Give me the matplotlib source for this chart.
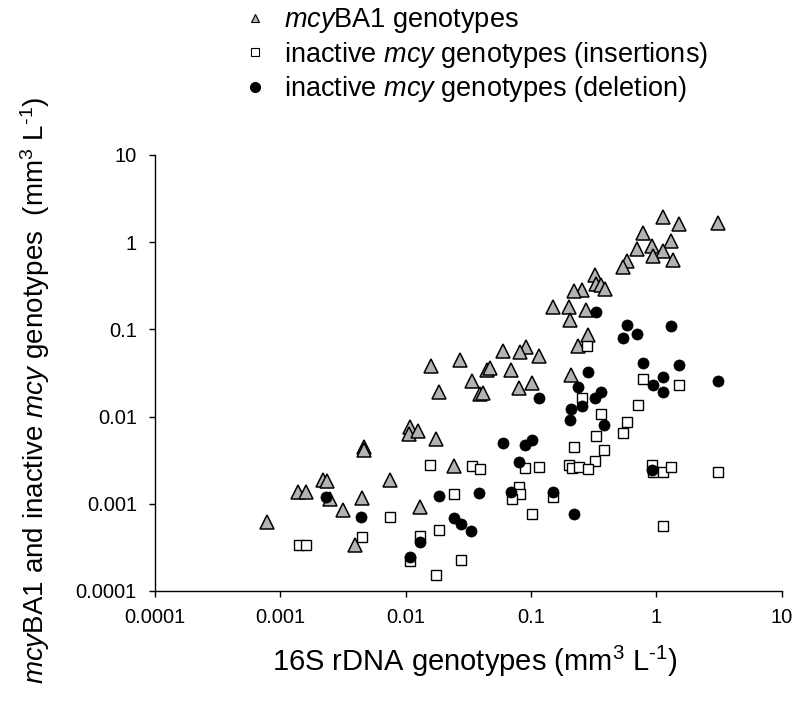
import matplotlib
matplotlib.use('Agg')
import matplotlib.pyplot as plt
from matplotlib.lines import Line2D
from matplotlib.ticker import NullLocator
#
plt.rcParams['font.family'] = ['Liberation Sans', 'DejaVu Sans']
plt.rcParams['mathtext.fontset'] = 'custom'
plt.rcParams['mathtext.rm'] = 'Liberation Sans'
plt.rcParams['mathtext.it'] = 'Liberation Sans:italic'
#
# -> mcyBA1 genotypes (x = 16S rDNA, y = mcyBA1), mm3 L-1
mcyX = [1.13, 1.52, 3.11, 0.783, 1.30, 0.924, 0.705, 1.12, 0.941, 1.36,
        0.583, 0.545, 0.321, 0.327, 0.364, 0.386, 0.255, 0.221, 0.150, 0.199,
        0.276, 0.206, 0.285, 0.235, 0.0597, 0.0915, 0.081, 0.116, 0.0695, 0.2095,
        0.102, 0.0794, 0.0159, 0.0273, 0.0445, 0.0466, 0.0335, 0.0185, 0.0393, 0.041,
        0.0108, 0.0106, 0.0126, 0.0175, 0.00466, 0.00466, 0.0244, 0.0022, 0.00234, 0.00743,
        0.00139, 0.0016, 0.00249, 0.00449, 0.00316, 0.0131, 0.000786, 0.00394]
mcyY = [1.92, 1.61, 1.68, 1.29, 1.04, 0.91, 0.834, 0.797, 0.699, 0.628,
        0.601, 0.513, 0.42, 0.331, 0.323, 0.29, 0.285, 0.272, 0.182, 0.179,
        0.168, 0.129, 0.0869, 0.0646, 0.056, 0.0634, 0.0545, 0.049, 0.0343, 0.030,
        0.0241, 0.0215, 0.0384, 0.045, 0.0345, 0.0361, 0.0254, 0.0191, 0.0183, 0.0187,
        0.00754, 0.00634, 0.00691, 0.0056, 0.00453, 0.00419, 0.00268, 0.00185, 0.00181, 0.00185,
        0.00138, 0.00135, 0.00114, 0.00115, 0.000838, 0.000914, 0.000616, 0.00034]
#
# -> inactive mcy genotypes (insertions)
insX = [0.2795, 0.783, 1.52, 0.255, 0.709, 0.362, 0.583, 0.542, 0.329, 0.221,
        0.383, 0.321, 0.199, 0.2106, 0.2395, 0.284, 0.034, 0.0391, 0.0902, 0.1152,
        0.924, 0.932, 1.123, 1.30, 3.10, 0.0794, 0.081, 0.0699, 0.149, 0.1017,
        1.13, 0.01575, 0.0244, 0.00746, 0.0184, 0.00446, 0.01303, 0.0014, 0.00161, 0.01084,
        0.0275, 0.0174]
insY = [0.0642, 0.0269, 0.0231, 0.0163, 0.0136, 0.0107, 0.00877, 0.00647, 0.00606, 0.00453,
        0.00417, 0.00307, 0.00278, 0.00254, 0.00263, 0.00252, 0.00271, 0.00252, 0.00254, 0.00263,
        0.00275, 0.0023, 0.0023, 0.00263, 0.0023, 0.00155, 0.00128, 0.00114, 0.00119, 0.000758,
        0.000552, 0.0028, 0.00129, 0.000702, 0.000504, 0.000414, 0.000425, 0.000333, 0.000333, 0.000222,
        0.000228, 0.000151]
#
# -> inactive mcy genotypes (deletion)
delX = [0.33, 0.583, 1.30, 0.705, 0.542, 0.783, 1.52, 0.285, 1.12, 3.10,
        0.938, 0.237, 0.362, 1.13, 0.1148, 0.321, 0.255, 0.2095, 0.205, 0.383,
        0.0592, 0.0899, 0.1017, 0.0794, 0.924, 0.0695, 0.149, 0.221, 0.0386, 0.0184,
        0.00231, 0.00443, 0.0244, 0.0274, 0.0333, 0.01303, 0.01084]
delY = [0.1595, 0.111, 0.1088, 0.0886, 0.0799, 0.0412, 0.0389, 0.0328, 0.0286, 0.0255,
        0.023, 0.0219, 0.0193, 0.019, 0.0163, 0.0165, 0.01336, 0.0121, 0.00907, 0.00805,
        0.0050, 0.00469, 0.00541, 0.003, 0.00245, 0.00136, 0.00136, 0.000754, 0.00132, 0.00122,
        0.00121, 0.000702, 0.000692, 0.00059, 0.000486, 0.000365, 0.000245]
#
tickVals   = [0.0001, 0.001, 0.01, 0.1, 1, 10]
tickLabels = ['0.0001', '0.001', '0.01', '0.1', '1', '10']
#
legendLabels = ['$\\it{mcy}$BA1 genotypes',
                'inactive $\\it{mcy}$ genotypes (insertions)',
                'inactive $\\it{mcy}$ genotypes (deletion)']
#
#
#
fig = plt.figure(figsize=(8.0, 7.07), dpi=100)
ax = fig.add_axes([0.1938, 0.1641, 0.7834, 0.6167])
ax.set_xscale('log')
ax.set_yscale('log')
ax.set_xlim(1e-4, 10)
ax.set_ylim(1e-4, 10)
#
ax.plot(mcyX, mcyY, ls='none', marker='^', ms=9.5, mfc='#b3b3b3', mec='black', mew=1.1, clip_on=False)
ax.plot(insX, insY, ls='none', marker='s', ms=7, mfc='white', mec='black', mew=1.0, clip_on=False)
ax.plot(delX, delY, ls='none', marker='o', ms=8, mfc='black', mec='black', mew=0.5, clip_on=False)
#
ax.set_xticks(tickVals)
ax.set_xticklabels(tickLabels)
ax.set_yticks(tickVals)
ax.set_yticklabels(tickLabels)
ax.xaxis.set_minor_locator(NullLocator())
ax.yaxis.set_minor_locator(NullLocator())
ax.tick_params(axis='both', direction='out', length=4, width=1, labelsize=14.5)
ax.tick_params(axis='x', pad=8)
ax.tick_params(axis='y', pad=9)
ax.spines['top'].set_visible(False)
ax.spines['right'].set_visible(False)
ax.spines['left'].set_linewidth(1)
ax.spines['bottom'].set_linewidth(1)
#
ax.set_xlabel('16S rDNA genotypes (mm$^3$ L$^{\\text{-1}}$)', fontsize=21)
ax.set_ylabel('$\\it{mcy}$BA1 and inactive $\\it{mcy}$ genotypes  (mm$^3$ L$^{\\text{-1}}$)', fontsize=20)
ax.xaxis.set_label_coords(0.51, -0.122)
ax.yaxis.set_label_coords(-0.164, 0.459)
#
handles = [Line2D([], [], ls='none', marker='^', ms=6, mfc='#b3b3b3', mec='black', mew=0.8),
           Line2D([], [], ls='none', marker='s', ms=5.5, mfc='white', mec='black', mew=0.8),
           Line2D([], [], ls='none', marker='o', ms=7, mfc='black', mec='black')]
fig.legend(handles, legendLabels, loc='upper left', bbox_to_anchor=(0.312, 0.991),
           frameon=False, fontsize=19.5, handlelength=0.4, handletextpad=0.88,
           labelspacing=0.16, borderpad=0, borderaxespad=0)
#
fig.savefig('out.png', dpi=100)
